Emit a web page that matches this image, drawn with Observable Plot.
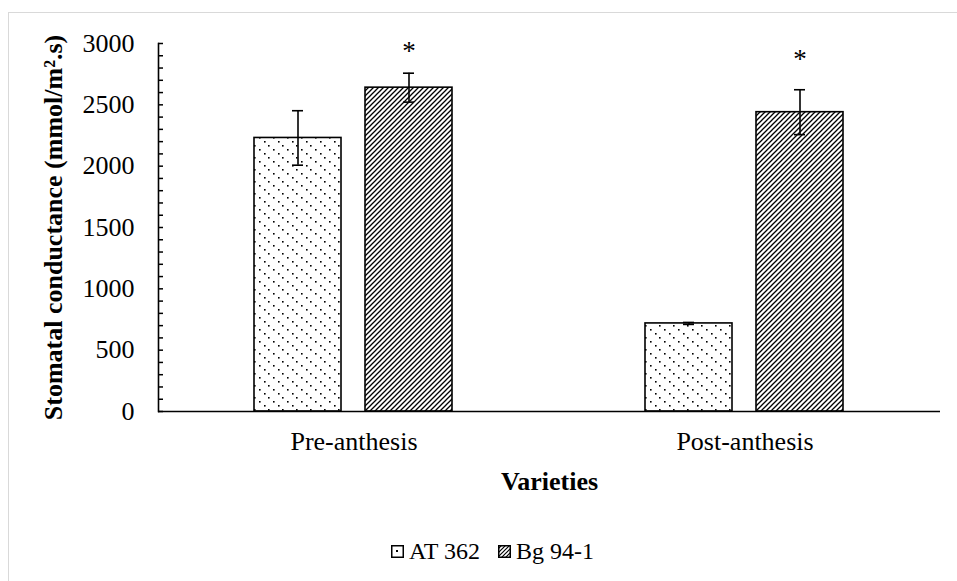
<!DOCTYPE html>
<html>
<head>
<meta charset="utf-8">
<script src="https://cdn.jsdelivr.net/npm/d3@7"></script>
<script src="https://cdn.jsdelivr.net/npm/@observablehq/plot@0.6"></script>
<style>
  html, body { margin: 0; padding: 0; background: #fff; }
  body { width: 957px; height: 581px; overflow: hidden; position: relative; font-family: "Liberation Serif", "Times New Roman", serif; }
  #border { position: absolute; left: 8px; top: 12px; width: 980px; height: 600px; border: 1px solid #d9d9d9; box-sizing: border-box; pointer-events: none; }
  #chart svg { display: block; font-family: "Liberation Serif", "Times New Roman", serif; }
  #chart g[aria-label="y-axis label"], #chart g[aria-label="fx-axis label"] { font-weight: bold; }
  #legend { height: 61px; box-sizing: border-box; padding-top: 19px; padding-left: 28px; display: flex; justify-content: center; align-items: flex-start; font-size: 24px; line-height: 24px; color: #000; }
  .item { display: flex; align-items: center; margin: 0 9px; }
  .item svg { margin-right: 5px; }
</style>
</head>
<body>
<div id="chart"></div>
<div id="legend"></div>
<div id="border"></div>
<script>
const categories = ["Pre-anthesis", "Post-anthesis"];
const varieties = ["AT 362", "Bg 94-1"];
const at362 = [2230, 718];
const at362Err = [222, 8];
const bg941 = [2640, 2440];
const bg941Err = [118, 183];
const sigCategories = ["Pre-anthesis", "Post-anthesis"];
const sigVariety = "Bg 94-1";
const sigLabel = "*";
const sigHeight = [2935, 2870];
const yMajorTicks = [0, 500, 1000, 1500, 2000, 2500, 3000];
const yMinorTicks = d3.range(0, 3001, 100);
const yLabel = "Stomatal conductance (mmol/m\u00B2.s)";
const xLabel = "Varieties";

const rows = [];
categories.forEach((c, i) => {
  rows.push({category: c, variety: varieties[0], value: at362[i], err: at362Err[i]});
  rows.push({category: c, variety: varieties[1], value: bg941[i], err: bg941Err[i]});
});
const sig = sigCategories.map((c, i) => ({category: c, variety: sigVariety, y: sigHeight[i], label: sigLabel}));

const chart = Plot.plot({
  width: 957,
  height: 520,
  marginLeft: 157,
  marginRight: 17,
  marginTop: 43,
  marginBottom: 109,
  style: {fontFamily: "Liberation Serif, Times New Roman, serif", fontSize: "26px", color: "#000", background: "transparent"},
  fx: {domain: categories, padding: 0},
  x: {domain: varieties, paddingInner: 0.214, paddingOuter: 0.855, axis: null},
  y: {domain: [0, 3000]},
  color: {type: "ordinal", domain: varieties, range: ["url(#pat-dots)", "url(#pat-hatch)"]},
  marks: [
    Plot.barY(rows, {fx: "category", x: "variety", y: "value", fill: "variety", stroke: "#000", strokeWidth: 1.6}),
    Plot.ruleX(rows, {fx: "category", x: "variety", y1: d => d.value - d.err, y2: d => d.value + d.err, stroke: "#000", strokeWidth: 1.6}),
    Plot.tickY(rows, {fx: "category", x: "variety", y: d => d.value + d.err, insetLeft: 38, insetRight: 38, stroke: "#000", strokeWidth: 1.6}),
    Plot.tickY(rows, {fx: "category", x: "variety", y: d => d.value - d.err, insetLeft: 38, insetRight: 38, stroke: "#000", strokeWidth: 1.6}),
    Plot.text(sig, {fx: "category", x: "variety", y: "y", text: "label", fontSize: 27, lineAnchor: "middle"}),
    Plot.ruleY([0], {stroke: "#000", strokeWidth: 1.6}),
    Plot.frame({anchor: "left", facetAnchor: "left", stroke: "#000", strokeWidth: 1.6}),
    Plot.axisY({ticks: yMinorTicks, tickSize: 5, dx: 5, tickFormat: () => "", label: null, strokeWidth: 1.5}),
    Plot.axisY({ticks: yMajorTicks, tickSize: 0, tickPadding: 24, tickFormat: d => String(d), label: yLabel, labelArrow: "none", labelAnchor: "center", labelOffset: 115, fontSize: 26}),
    Plot.axisFx({anchor: "bottom", tickSize: 0, tickPadding: 20, label: xLabel, labelArrow: "none", labelAnchor: "center", labelOffset: 78, fontSize: 26})
  ]
});

// pattern definitions
const ns = "http://www.w3.org/2000/svg";
const defs = document.createElementNS(ns, "defs");
defs.innerHTML = `
  <pattern id="pat-dots" patternUnits="userSpaceOnUse" width="14" height="12">
    <rect width="14" height="12" fill="#fff"/>
    <rect x="1" y="1" width="1.6" height="1.6" fill="#000"/>
    <rect x="6" y="5" width="1.6" height="1.6" fill="#000"/>
    <rect x="11" y="9" width="1.6" height="1.6" fill="#000"/>
  </pattern>
  <pattern id="pat-hatch" patternUnits="userSpaceOnUse" width="5" height="5">
    <rect width="5" height="5" fill="#fff"/>
    <path d="M-1,1 L1,-1 M0,5 L5,0 M4,6 L6,4" stroke="#000" stroke-width="1.3"/>
  </pattern>
  <pattern id="pat-dots-s" patternUnits="userSpaceOnUse" width="12" height="12">
    <rect width="12" height="12" fill="#fff"/>
    <rect x="5" y="5" width="2" height="2" fill="#000"/>
  </pattern>
  <pattern id="pat-hatch-s" patternUnits="userSpaceOnUse" width="4" height="4">
    <rect width="4" height="4" fill="#fff"/>
    <path d="M-1,1 L1,-1 M0,4 L4,0 M3,5 L5,3" stroke="#000" stroke-width="1.2"/>
  </pattern>`;
chart.insertBefore(defs, chart.firstChild);
document.getElementById("chart").appendChild(chart);

// legend
const legend = d3.select("#legend");
const swatchFill = ["url(#pat-dots-s)", "url(#pat-hatch-s)"];
varieties.forEach((v, i) => {
  const item = legend.append("div").attr("class", "item");
  const s = item.append("svg").attr("width", 13).attr("height", 13);
  s.append("rect").attr("x", 0.75).attr("y", 0.75).attr("width", 11.5).attr("height", 11.5)
    .attr("fill", swatchFill[i]).attr("stroke", "#000").attr("stroke-width", 1.5);
  item.append("span").text(v);
});
</script>
</body>
</html>
